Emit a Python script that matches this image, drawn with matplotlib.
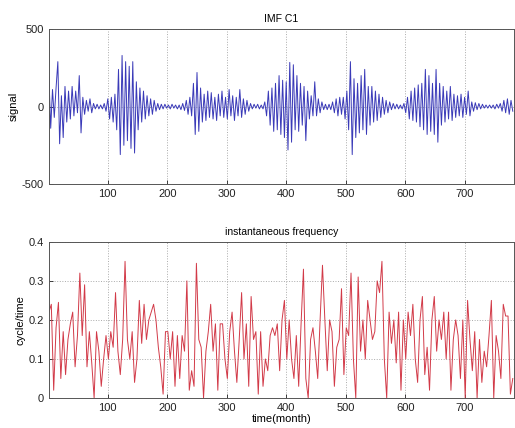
import numpy as np
import matplotlib
matplotlib.use("Agg")
import matplotlib.pyplot as plt

plt.rcParams['font.family'] = ['Liberation Sans', 'DejaVu Sans']
plt.rcParams['axes.unicode_minus'] = False

sig_start, sig_step = 1, 3
signal = [
    190, -140, 110, -70, 120, 290, -240, 70, -200, 130, -100, 100, -80, 130, -60, 100, -40,
    200, -170, 60, -50, 40, -30, 50, -40, 20, -15, 15, -15, 10, -15, 20, -30, 50,
    -80, 60, -100, 80, -150, 240, -310, 330, -250, 290, -220, 260, -270, 290, -300, 160, -150,
    120, -100, 100, -80, 70, -60, 50, -50, 40, -30, 20, -20, 15, -15, 15, -10,
    10, -15, 15, -10, 10, -15, 10, -20, 20, -25, 40, -50, 60, -60, 150, -180, 220,
    -160, 120, -100, 80, -90, 100, -70, 90, -80, 60, -90, 80, -60, 100, -70, 60,
    -80, 110, -60, 70, -90, 60, -60, 110, -70, 50, -50, 40, -30, 20, -15, 15, -10,
    15, -15, 10, -15, 30, -60, 100, -120, 120, -160, 150, -150, 200, -180, 170, -200, 160,
    -280, 285, -230, 270, -150, 200, -160, 150, -120, 130, -220, 100, -80, 70, -60, 160, -60,
    50, -40, 30, -20, 15, -20, 15, -20, 30, -40, 50, -60, 60, -50, 60, -80,
    100, -150, 290, -310, 180, -200, 150, -170, 200, -150, 240, -180, 130, -120, 130, -100, 100,
    -90, 80, -70, 60, -50, 40, -40, 30, -20, 20, -15, 15, -15, 10, -15, 20, -40,
    60, -80, 100, -90, 120, -100, 140, -130, 150, -150, 240, -180, 200, -160, 150, -180, 240,
    -230, 150, -120, 130, -100, 100, -80, 130, -90, 80, -70, 70, -60, 80, -70, 60,
    -50, 100, -60, 30, -30, 25, -20, 20, -15, 15, -10, 10, -10, 10, -10, 10, -15,
    15, -10, 20, -30, 40, -40, 50, -50, 40, -30,
]

# instantaneous frequency, sampled every 4 months starting at month 1
freq_start, freq_step = 1, 4
frequency = [
    0.22, 0.24, 0.02, 0.18, 0.245, 0.05, 0.17, 0.06, 0.15, 0.19, 0.22, 0.08, 0.16, 0.32, 0.16, 0.29,
    0.08, 0.17, 0.09, 0.0, 0.17, 0.12, 0.03, 0.10, 0.16,
    0.10, 0.17, 0.13, 0.27, 0.12, 0.06, 0.15, 0.35, 0.15, 0.10, 0.17, 0.04, 0.10, 0.25, 0.14, 0.24,
    0.15, 0.20, 0.22, 0.24, 0.20, 0.13, 0.08, 0.01, 0.17,
    0.17, 0.10, 0.17, 0.03, 0.16, 0.05, 0.16, 0.12, 0.30, 0.02, 0.07, 0.03, 0.345, 0.15, 0.13, 0.0,
    0.12, 0.17, 0.24, 0.12, 0.19, 0.02, 0.19, 0.19, 0.10,
    0.05, 0.17, 0.22, 0.12, 0.04, 0.15, 0.27, 0.10, 0.19, 0.03, 0.26, 0.15, 0.17, 0.01, 0.17, 0.03,
    0.10, 0.07, 0.16, 0.18, 0.16, 0.19, 0.07, 0.20, 0.25,
    0.10, 0.20, 0.10, 0.05, 0.16, 0.03, 0.19, 0.33, 0.05, 0.0, 0.15, 0.18, 0.12, 0.05, 0.20, 0.34,
    0.20, 0.07, 0.20, 0.17, 0.03, 0.13, 0.15, 0.28, 0.06,
    0.18, 0.16, 0.32, 0.10, 0.0, 0.31, 0.12, 0.20, 0.10, 0.25, 0.20, 0.15, 0.17, 0.30, 0.27, 0.35,
    0.10, 0.0, 0.22, 0.14, 0.20, 0.09, 0.22, 0.02, 0.20,
    0.10, 0.22, 0.16, 0.24, 0.10, 0.04, 0.20, 0.26, 0.06, 0.13, 0.02, 0.20, 0.26, 0.12, 0.20, 0.15,
    0.22, 0.10, 0.22, 0.02, 0.15, 0.20, 0.16, 0.05, 0.20,
    0.0, 0.25, 0.15, 0.07, 0.17, 0.0, 0.15, 0.04, 0.12, 0.08, 0.16, 0.25, 0.0, 0.16, 0.12, 0.05,
    0.24, 0.21, 0.21, 0.01, 0.05,
]

x_ticks = [100, 200, 300, 400, 500, 600, 700]
sig_yticks = [-500, 0, 500]
freq_yticks = [0, 0.1, 0.2, 0.3, 0.4]
freq_yticklabels = ['0', '0.1', '0.2', '0.3', '0.4']

sig_x = sig_start + sig_step * np.arange(len(signal))
freq_x = freq_start + freq_step * np.arange(len(frequency))

fig = plt.figure(figsize=(5.15, 4.28), dpi=100)
ax1 = fig.add_axes([0.095, 0.570, 0.903, 0.362])
ax2 = fig.add_axes([0.095, 0.070, 0.903, 0.365])

ax1.plot(sig_x, signal, color='#3a3ab8', lw=0.7)
ax2.plot(freq_x, frequency, color='#d23a48', lw=0.7)

for ax in (ax1, ax2):
    ax.set_xlim(1, 783)
    ax.set_xticks(x_ticks)
    ax.set_axisbelow(True)
    ax.grid(True, linestyle=':', color='#aaaaaa', linewidth=0.7)
    ax.tick_params(direction='in', labelsize=8, length=3, width=0.6, colors='#222222')
    for s in ax.spines.values():
        s.set_color('#555555')
        s.set_linewidth(0.7)

ax1.set_ylim(-500, 500)
ax1.set_yticks(sig_yticks)
ax1.set_title('IMF C1', fontsize=7.5, pad=5)
ax1.set_ylabel('signal', fontsize=8, labelpad=2)

ax2.set_ylim(0, 0.4)
ax2.set_yticks(freq_yticks)
ax2.set_yticklabels(freq_yticklabels)
ax2.set_title('instantaneous frequency', fontsize=7.5, pad=5)
ax2.set_ylabel('cycle/time', fontsize=8, labelpad=2)
ax2.set_xlabel('time(month)', fontsize=8, labelpad=1)

fig.savefig('out.png', dpi=100)
